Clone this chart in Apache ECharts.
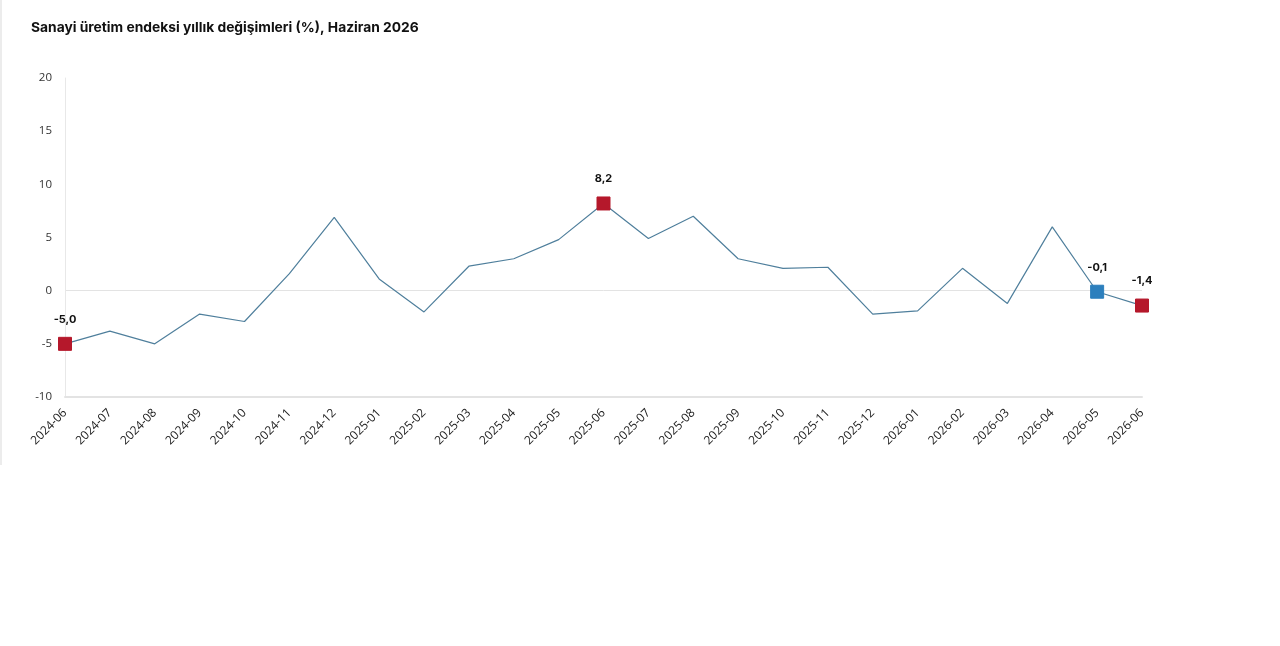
<!DOCTYPE html>
<html>
<head>
<meta charset="utf-8">
<script src="https://cdn.jsdelivr.net/npm/echarts@6/dist/echarts.min.js"></script>
<style>
  html, body { margin: 0; padding: 0; background: #fff; }
  #frame { position: absolute; left: 0; top: 0; width: 2px; height: 465px; background: #ececec; }
  #chart { width: 1280px; height: 646px; }
</style>
</head>
<body>
<div id="frame"></div>
<div id="chart"></div>
<script>
// aylar
const months = ['2024-06', '2024-07', '2024-08', '2024-09', '2024-10', '2024-11', '2024-12',
    '2025-01', '2025-02', '2025-03', '2025-04', '2025-05', '2025-06', '2025-07', '2025-08',
    '2025-09', '2025-10', '2025-11', '2025-12', '2026-01', '2026-02', '2026-03', '2026-04',
    '2026-05', '2026-06'];
// yillik degisim (%)
const values = [-5.0, -3.8, -5.0, -2.2, -2.9, 1.6, 6.9, 1.1, -2.0, 2.3, 3.0, 4.8, 8.2,
    4.9, 7.0, 3.0, 2.1, 2.2, -2.2, -1.9, 2.1, -1.2, 6.0, -0.1, -1.4];
// isaretli noktalar
const redPoints = ['2024-06', '2025-06', '2026-06'];
const bluePoints = ['2026-05'];

const red = '#b5182b';
const blue = '#2c7fbd';

const seriesData = values.map(function(v, i) {
    const m = months[i];
    let color = null;
    if (redPoints.indexOf(m) >= 0) { color = red; }
    if (bluePoints.indexOf(m) >= 0) { color = blue; }
    if (!color) { return v; }
    return {
        value: v,
        symbol: 'rect',
        symbolSize: 13,
        itemStyle: { color: color, borderColor: color },
        label: {
            show: true,
            position: 'top',
            distance: 12,
            formatter: function(p) { return p.value.toFixed(1).replace('.', ','); },
            fontWeight: 'bold',
            fontSize: 11,
            color: '#111'
        }
    };
});

const chart = echarts.init(document.getElementById('chart'));
chart.setOption({
    animation: false,
    textStyle: { fontFamily: 'Inter, "Noto Sans", sans-serif' },
    title: {
        text: 'Sanayi üretim endeksi yıllık değişimleri (%), Haziran 2026',
        left: 26,
        top: 16,
        textStyle: { fontSize: 13.8, fontWeight: 'bold', color: '#111', fontFamily: 'Inter, sans-serif' }
    },
    grid: { left: 65, right: 138, top: 78, bottom: 249, containLabel: false },
    xAxis: {
        type: 'category',
        data: months,
        boundaryGap: false,
        axisLine: { onZero: false, lineStyle: { color: '#e3e3e3', width: 2 } },
        axisTick: { show: false },
        axisLabel: { rotate: 45, fontSize: 12, color: '#222', margin: 14, interval: 0, fontFamily: '"Open Sans", sans-serif' }
    },
    yAxis: {
        type: 'value',
        min: -10,
        max: 20,
        interval: 5,
        axisLine: { show: true, lineStyle: { color: '#e8e8e8' } },
        axisTick: { show: false },
        splitLine: {
            show: true,
            lineStyle: { color: ['transparent', 'transparent', '#e3e3e3', 'transparent', 'transparent', 'transparent', 'transparent'], width: 1 }
        },
        axisLabel: { fontSize: 11.5, color: '#333', margin: 13, fontFamily: '"Open Sans", sans-serif' }
    },
    series: [{
        type: 'line',
        data: seriesData,
        symbol: 'none',
        lineStyle: { color: '#4f7f9c', width: 1.2 },
        itemStyle: { color: '#4f7f9c' },
        z: 3
    }]
});
</script>
</body>
</html>
